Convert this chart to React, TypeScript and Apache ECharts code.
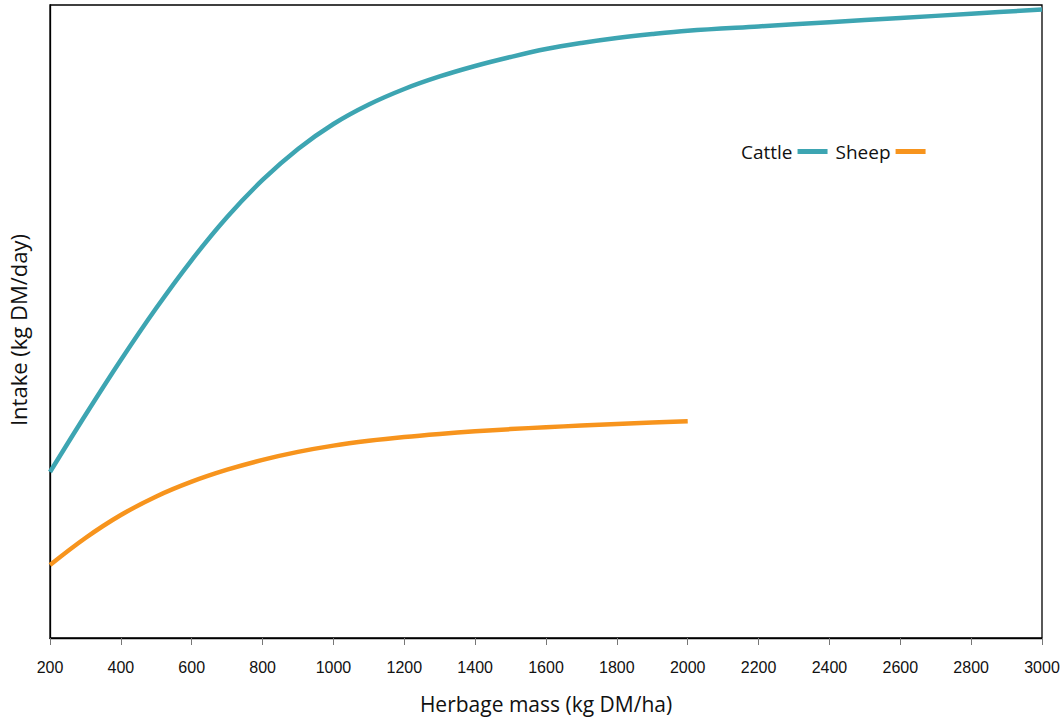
import React, { useEffect, useRef } from "react";
import * as echarts from "echarts";

const cattleMass = [200, 300, 400, 500, 600, 700, 800, 900, 1000, 1100, 1200, 1300, 1400, 1500, 1600, 1700, 1800, 1900, 2000, 2200, 2400, 2600, 2800, 3000];
const cattleIntake = [3.671, 4.932, 6.149, 7.299, 8.36, 9.311, 10.13, 10.815, 11.368, 11.799, 12.142, 12.419, 12.651, 12.85, 13.027, 13.16, 13.27, 13.359, 13.432, 13.527, 13.62, 13.713, 13.806, 13.9];
const sheepMass = [200, 300, 400, 500, 600, 700, 800, 900, 1000, 1100, 1200, 1300, 1400, 1500, 1600, 1700, 1800, 1900, 2000];
const sheepIntake = [1.615, 2.212, 2.72, 3.13, 3.457, 3.722, 3.939, 4.116, 4.255, 4.361, 4.446, 4.514, 4.572, 4.62, 4.662, 4.698, 4.733, 4.764, 4.795];
const seriesNames = ["Cattle", "Sheep"];
const colors = ["#3DA5B2", "#F7941D"];
const xAxisTitle = "Herbage mass (kg DM/ha)";
const yAxisTitle = "Intake (kg DM/day)";

export default function App() {
  const ref = useRef<HTMLDivElement>(null);
  useEffect(() => {
    if (!ref.current) return;
    const chart = echarts.init(ref.current, null, { renderer: "svg" });
    chart.setOption({
      animation: false,
      backgroundColor: "#fff",
      grid: {
        left: 50,
        right: 20,
        top: 5,
        bottom: 79,
        show: true,
        borderColor: "#000",
        borderWidth: 1.3,
        containLabel: false,
        outerBoundsMode: "none",
      },
      legend: {
        data: seriesNames.map((n) => ({ name: n, icon: "rect" })),
        left: 736,
        top: 137,
        align: "right",
        itemWidth: 30,
        itemHeight: 5,
        itemGap: 8,
        textStyle: { fontFamily: "Open Sans", fontSize: 19, color: "#111" },
      },
      graphic: [
        {
          type: "text",
          x: 18,
          y: 330,
          rotation: Math.PI / 2,
          style: {
            text: yAxisTitle,
            fontFamily: "Open Sans",
            fontSize: 22,
            fill: "#111",
            align: "center",
            verticalAlign: "middle",
          },
        },
      ],
      xAxis: {
        type: "value",
        min: 200,
        max: 3000,
        interval: 200,
        name: xAxisTitle,
        nameLocation: "middle",
        nameGap: 55,
        nameTextStyle: { fontFamily: "Open Sans", fontSize: 21, color: "#111" },
        axisLine: { show: true, lineStyle: { color: "#000", width: 1.3 } },
        axisTick: { show: true, length: 7, lineStyle: { color: "#777", width: 1 } },
        axisLabel: {
          margin: 21,
          fontFamily: "Liberation Sans",
          fontSize: 16,
          color: "#111",
          formatter: (v: number) => String(v),
        },
        splitLine: { show: false },
      },
      yAxis: {
        type: "value",
        min: 0,
        max: 14,
        axisLine: { show: true, lineStyle: { color: "#000", width: 1.3 } },
        axisTick: { show: false },
        axisLabel: { show: false },
        splitLine: { show: false },
      },
      series: [
        {
          name: seriesNames[0],
          type: "line",
          data: cattleMass.map((x, i) => [x, cattleIntake[i]]),
          smooth: 0.35,
          showSymbol: false,
          lineStyle: { color: colors[0], width: 4.5 },
          itemStyle: { color: colors[0] },
        },
        {
          name: seriesNames[1],
          type: "line",
          data: sheepMass.map((x, i) => [x, sheepIntake[i]]),
          smooth: 0.35,
          showSymbol: false,
          lineStyle: { color: colors[1], width: 4.5 },
          itemStyle: { color: colors[1] },
        },
      ],
    });
    return () => chart.dispose();
  }, []);
  return (
    <div
      ref={ref}
      style={{ position: "fixed", left: 0, top: 0, width: 1062, height: 717, background: "#fff" }}
    />
  );
}
